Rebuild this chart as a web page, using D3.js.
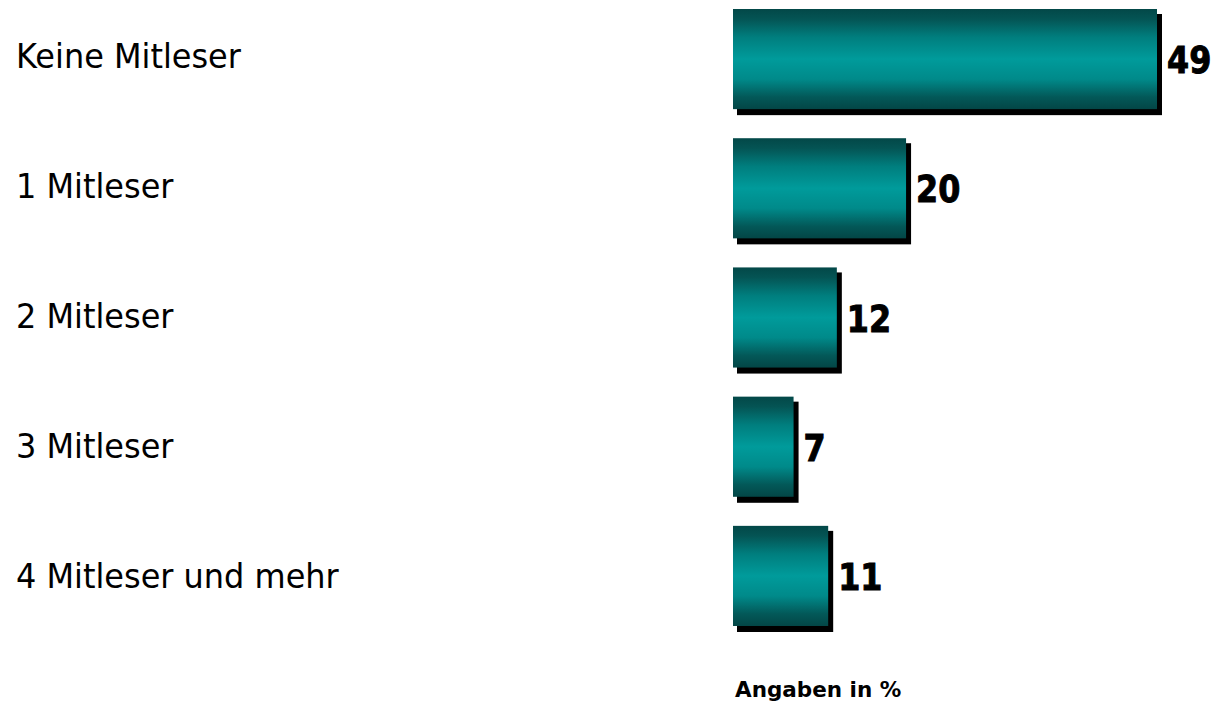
<!DOCTYPE html>
<html>
<head>
<meta charset="utf-8">
<script src="https://cdn.jsdelivr.net/npm/d3@7"></script>
<style>
  html, body { margin: 0; padding: 0; background: #ffffff; }
  svg { display: block; }
</style>
</head>
<body>
<svg id="chart" width="1216" height="707"></svg>
<script>
const categories = ["Keine Mitleser", "1 Mitleser", "2 Mitleser", "3 Mitleser", "4 Mitleser und mehr"];
const values = [49, 20, 12, 7, 11];
const note = "Angaben in %";

const svg = d3.select("#chart");

const x = d3.scaleLinear().domain([0, 49]).range([733, 1157]);
const y = d3.scaleBand().domain(categories).range([9, 626]).paddingInner(0.225).paddingOuter(0);
const yLabel = d3.scalePoint().domain(categories).range([68, 588]);

const defs = svg.append("defs");
const grad = defs.append("linearGradient")
  .attr("id", "barGrad").attr("x1", 0).attr("y1", 0).attr("x2", 0).attr("y2", 1);
[[0, "#034848"], [0.1, "#045454"], [0.28, "#007e7e"], [0.5, "#009b9b"], [0.7, "#008a8a"], [0.88, "#035858"], [1, "#034646"]]
  .forEach(([o, c]) => grad.append("stop").attr("offset", o).attr("stop-color", c));

const data = categories.map((c, i) => ({ cat: c, val: values[i] }));

// shadows
svg.append("g").selectAll("rect").data(data).join("rect")
  .attr("x", x(0) + 4)
  .attr("y", d => y(d.cat) + 5)
  .attr("width", d => x(d.val) - x(0) + 1)
  .attr("height", y.bandwidth() + 1)
  .attr("fill", "#000000");

// bars
svg.append("g").selectAll("rect").data(data).join("rect")
  .attr("x", x(0))
  .attr("y", d => y(d.cat))
  .attr("width", d => x(d.val) - x(0))
  .attr("height", y.bandwidth())
  .attr("fill", "url(#barGrad)");

// value labels (narrowed horizontally to mimic Tahoma Bold)
svg.append("g").selectAll("text").data(data).join("text")
  .attr("transform", d => `translate(${x(d.val) + 10},${y(d.cat) + y.bandwidth() / 2 + 14}) scale(0.86,1)`)
  .attr("font-family", "'DejaVu Sans', Verdana, sans-serif")
  .attr("font-weight", "bold")
  .attr("font-size", 37)
  .attr("fill", "#000")
  .attr("stroke", "#000")
  .attr("stroke-width", 1)
  .text(d => d.val);

// category labels
svg.append("g").selectAll("text").data(data).join("text")
  .attr("transform", d => `translate(16,${yLabel(d.cat)}) scale(0.94,1)`)
  .attr("font-family", "'DejaVu Sans', Verdana, sans-serif")
  .attr("font-size", 34)
  .attr("fill", "#000")
  .text(d => d.cat);

svg.append("text")
  .attr("x", 735)
  .attr("y", 697)
  .attr("font-family", "'DejaVu Sans', Verdana, sans-serif")
  .attr("font-weight", "bold")
  .attr("font-size", 21.5)
  .attr("fill", "#000")
  .text(note);
</script>
</body>
</html>
